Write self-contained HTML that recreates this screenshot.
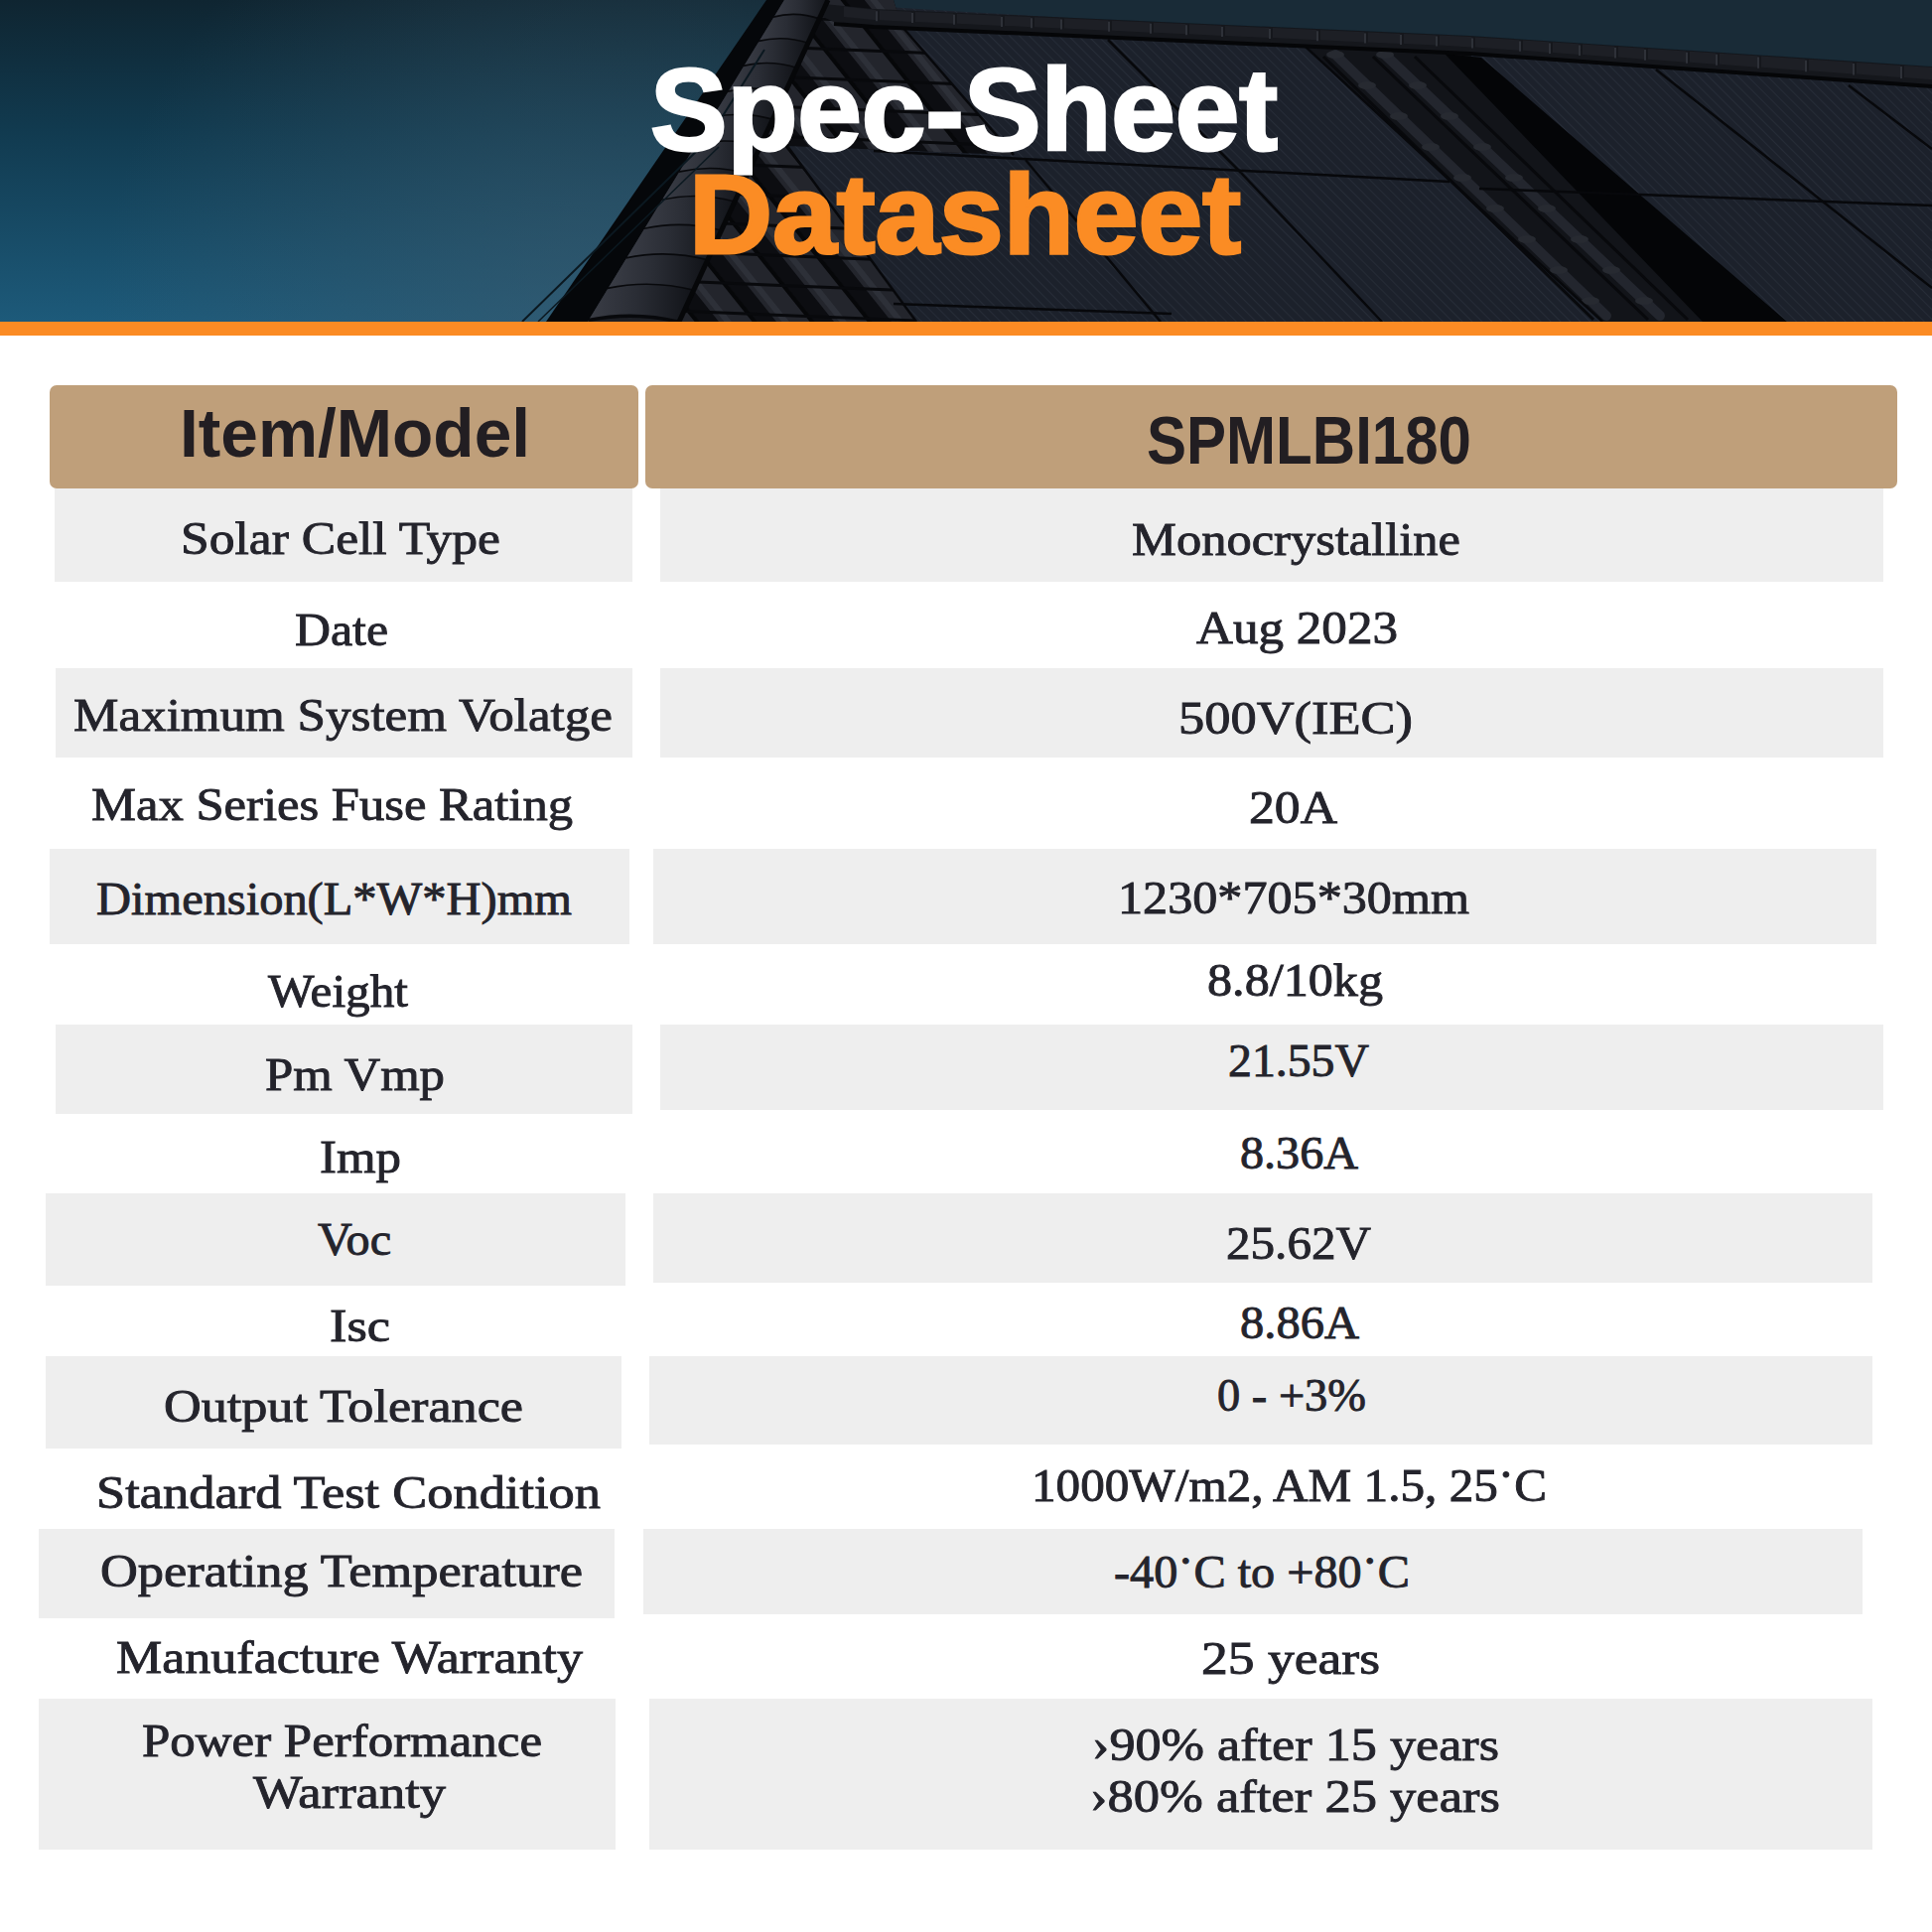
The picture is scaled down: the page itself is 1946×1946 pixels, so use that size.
<!DOCTYPE html>
<html><head><meta charset="utf-8"><title>Spec-Sheet Datasheet</title>
<style>
html,body{margin:0;padding:0;width:1946px;height:1946px;overflow:hidden;background:#fff;}
svg{position:absolute;left:0;top:0;display:block;}
.tb text{font-family:"Liberation Serif",serif;font-size:47px;fill:#24242c;stroke:#24242c;stroke-width:0.9px;}
.hd text{font-family:"Liberation Sans",sans-serif;font-weight:700;fill:#221e22;}
.ttl text{font-family:"Liberation Sans",sans-serif;font-weight:700;}
</style></head><body>
<svg width="1946" height="1946" viewBox="0 0 1946 1946">
<defs>
<linearGradient id="sky" x1="0" y1="0" x2="0" y2="1">
<stop offset="0" stop-color="#0f2531"/>
<stop offset="0.4" stop-color="#113a4f"/>
<stop offset="1" stop-color="#1d5a7a"/>
</linearGradient>
<radialGradient id="skyglow" cx="620" cy="330" r="520" gradientUnits="userSpaceOnUse">
<stop offset="0" stop-color="#3d5a6c" stop-opacity="0.6"/>
<stop offset="1" stop-color="#3d5a6c" stop-opacity="0"/>
</radialGradient>
<pattern id="cells" width="7" height="7" patternUnits="userSpaceOnUse" patternTransform="rotate(-45)">
<rect width="7" height="7" fill="#1c212b"/>
<rect width="1" height="7" fill="#262c37"/>
</pattern>
<linearGradient id="tileg" x1="0" y1="0" x2="1" y2="0">
<stop offset="0" stop-color="#3a3d46"/>
<stop offset="0.45" stop-color="#2a2d35"/>
<stop offset="1" stop-color="#111318"/>
</linearGradient>
<clipPath id="hclip"><rect x="0" y="0" width="1946" height="324"/></clipPath>
</defs>
<g clip-path="url(#hclip)">
<rect x="0" y="0" width="1946" height="324" fill="url(#sky)"/>
<rect x="0" y="0" width="1946" height="324" fill="url(#skyglow)"/>
<polygon points="740,0 1946,0 1946,67 1480,36 880,9 800,0" fill="#192b37"/>
<polygon points="783,0 973,12 1946,68 1946,324 552,324" fill="url(#cells)"/>

<clipPath id="tclip"><polygon points="834,0 900,0 908,26 1021,156 793,147 923,324 684,324"/></clipPath>
<polygon points="834,0 900,0 908,26 1021,156 793,147 923,324 684,324" fill="#0c0d11"/>
<g clip-path="url(#tclip)"><line x1="236" y1="-20" x2="524" y2="340" stroke="#23252c" stroke-width="30"/><line x1="226" y1="-20" x2="514" y2="340" stroke="#2d3038" stroke-width="6"/><line x1="253" y1="-20" x2="541" y2="340" stroke="#060709" stroke-width="4"/><line x1="294" y1="-20" x2="582" y2="340" stroke="#23252c" stroke-width="30"/><line x1="284" y1="-20" x2="572" y2="340" stroke="#2d3038" stroke-width="6"/><line x1="311" y1="-20" x2="599" y2="340" stroke="#060709" stroke-width="4"/><line x1="352" y1="-20" x2="640" y2="340" stroke="#23252c" stroke-width="30"/><line x1="342" y1="-20" x2="630" y2="340" stroke="#2d3038" stroke-width="6"/><line x1="369" y1="-20" x2="657" y2="340" stroke="#060709" stroke-width="4"/><line x1="410" y1="-20" x2="698" y2="340" stroke="#23252c" stroke-width="30"/><line x1="400" y1="-20" x2="688" y2="340" stroke="#2d3038" stroke-width="6"/><line x1="427" y1="-20" x2="715" y2="340" stroke="#060709" stroke-width="4"/><line x1="468" y1="-20" x2="756" y2="340" stroke="#23252c" stroke-width="30"/><line x1="458" y1="-20" x2="746" y2="340" stroke="#2d3038" stroke-width="6"/><line x1="485" y1="-20" x2="773" y2="340" stroke="#060709" stroke-width="4"/><line x1="526" y1="-20" x2="814" y2="340" stroke="#23252c" stroke-width="30"/><line x1="516" y1="-20" x2="804" y2="340" stroke="#2d3038" stroke-width="6"/><line x1="543" y1="-20" x2="831" y2="340" stroke="#060709" stroke-width="4"/><line x1="584" y1="-20" x2="872" y2="340" stroke="#23252c" stroke-width="30"/><line x1="574" y1="-20" x2="862" y2="340" stroke="#2d3038" stroke-width="6"/><line x1="601" y1="-20" x2="889" y2="340" stroke="#060709" stroke-width="4"/><line x1="642" y1="-20" x2="930" y2="340" stroke="#23252c" stroke-width="30"/><line x1="632" y1="-20" x2="920" y2="340" stroke="#2d3038" stroke-width="6"/><line x1="659" y1="-20" x2="947" y2="340" stroke="#060709" stroke-width="4"/><line x1="700" y1="-20" x2="988" y2="340" stroke="#23252c" stroke-width="30"/><line x1="690" y1="-20" x2="978" y2="340" stroke="#2d3038" stroke-width="6"/><line x1="717" y1="-20" x2="1005" y2="340" stroke="#060709" stroke-width="4"/><line x1="758" y1="-20" x2="1046" y2="340" stroke="#23252c" stroke-width="30"/><line x1="748" y1="-20" x2="1036" y2="340" stroke="#2d3038" stroke-width="6"/><line x1="775" y1="-20" x2="1063" y2="340" stroke="#060709" stroke-width="4"/><line x1="816" y1="-20" x2="1104" y2="340" stroke="#23252c" stroke-width="30"/><line x1="806" y1="-20" x2="1094" y2="340" stroke="#2d3038" stroke-width="6"/><line x1="833" y1="-20" x2="1121" y2="340" stroke="#060709" stroke-width="4"/><line x1="874" y1="-20" x2="1162" y2="340" stroke="#23252c" stroke-width="30"/><line x1="864" y1="-20" x2="1152" y2="340" stroke="#2d3038" stroke-width="6"/><line x1="891" y1="-20" x2="1179" y2="340" stroke="#060709" stroke-width="4"/><line x1="932" y1="-20" x2="1220" y2="340" stroke="#23252c" stroke-width="30"/><line x1="922" y1="-20" x2="1210" y2="340" stroke="#2d3038" stroke-width="6"/><line x1="949" y1="-20" x2="1237" y2="340" stroke="#060709" stroke-width="4"/><line x1="990" y1="-20" x2="1278" y2="340" stroke="#23252c" stroke-width="30"/><line x1="980" y1="-20" x2="1268" y2="340" stroke="#2d3038" stroke-width="6"/><line x1="1007" y1="-20" x2="1295" y2="340" stroke="#060709" stroke-width="4"/><line x1="600" y1="10" x2="1100" y2="30" stroke="#08090c" stroke-width="3"/><line x1="600" y1="40" x2="1100" y2="60" stroke="#08090c" stroke-width="3"/><line x1="600" y1="70" x2="1100" y2="90" stroke="#08090c" stroke-width="3"/><line x1="600" y1="100" x2="1100" y2="120" stroke="#08090c" stroke-width="3"/><line x1="600" y1="130" x2="1100" y2="150" stroke="#08090c" stroke-width="3"/><line x1="600" y1="160" x2="1100" y2="180" stroke="#08090c" stroke-width="3"/><line x1="600" y1="190" x2="1100" y2="210" stroke="#08090c" stroke-width="3"/><line x1="600" y1="220" x2="1100" y2="240" stroke="#08090c" stroke-width="3"/><line x1="600" y1="250" x2="1100" y2="270" stroke="#08090c" stroke-width="3"/><line x1="600" y1="280" x2="1100" y2="300" stroke="#08090c" stroke-width="3"/><line x1="600" y1="310" x2="1100" y2="330" stroke="#08090c" stroke-width="3"/><line x1="600" y1="340" x2="1100" y2="360" stroke="#08090c" stroke-width="3"/></g>
<polygon points="1315,45 1480,55 1790,324 1614,324" fill="#121419"/>
<polygon points="1455,54 1492,58 1800,324 1715,324" fill="#040507"/>
<g stroke="#23262e" stroke-width="10" stroke-linecap="round"><line x1="1345" y1="55" x2="1618" y2="318"/><line x1="1395" y1="55" x2="1672" y2="318"/></g>
<g stroke="#08090c" stroke-width="3"><line x1="1333" y1="57" x2="1605" y2="322"/><line x1="1383" y1="57" x2="1660" y2="322"/><line x1="1425" y1="57" x2="1700" y2="322"/></g>
<ellipse cx="1345" cy="55" rx="9" ry="4" fill="#272a31"/><ellipse cx="1395" cy="55" rx="9" ry="4" fill="#272a31"/><ellipse cx="1377" cy="86" rx="9" ry="4" fill="#272a31"/><ellipse cx="1428" cy="86" rx="9" ry="4" fill="#272a31"/><ellipse cx="1409" cy="117" rx="9" ry="4" fill="#272a31"/><ellipse cx="1460" cy="117" rx="9" ry="4" fill="#272a31"/><ellipse cx="1441" cy="148" rx="9" ry="4" fill="#272a31"/><ellipse cx="1493" cy="148" rx="9" ry="4" fill="#272a31"/><ellipse cx="1473" cy="179" rx="9" ry="4" fill="#272a31"/><ellipse cx="1525" cy="179" rx="9" ry="4" fill="#272a31"/><ellipse cx="1506" cy="210" rx="9" ry="4" fill="#272a31"/><ellipse cx="1558" cy="210" rx="9" ry="4" fill="#272a31"/><ellipse cx="1538" cy="241" rx="9" ry="4" fill="#272a31"/><ellipse cx="1591" cy="241" rx="9" ry="4" fill="#272a31"/><ellipse cx="1570" cy="272" rx="9" ry="4" fill="#272a31"/><ellipse cx="1623" cy="272" rx="9" ry="4" fill="#272a31"/><ellipse cx="1602" cy="303" rx="9" ry="4" fill="#272a31"/><ellipse cx="1656" cy="303" rx="9" ry="4" fill="#272a31"/>
<g stroke="#07080b" stroke-width="2.5" fill="none">
<line x1="880" y1="152" x2="1460" y2="183"/>
<line x1="1490" y1="190" x2="1946" y2="207"/>
<line x1="908" y1="26" x2="1021" y2="156"/>
<line x1="1116" y1="40" x2="1250" y2="174"/>
<line x1="1033" y1="161" x2="1169" y2="324"/>
<line x1="1250" y1="174" x2="1392" y2="324"/>
<line x1="793" y1="147" x2="923" y2="324"/>
<line x1="1315" y1="47" x2="1614" y2="324"/>
<line x1="1668" y1="70" x2="1946" y2="290"/>
<line x1="1862" y1="86" x2="1946" y2="150"/>
<line x1="900" y1="306" x2="1180" y2="316"/>
</g>
<polygon points="790,0 880,9 1480,36 1946,67 1946,86 1480,53 880,26 840,22" fill="#15171c"/>
<path d="M850,6.6 L882,10.1 Q886,15.3 882,20.3 L850,17.0 Z" fill="#1d1f25"/><line x1="883" y1="11.3" x2="883" y2="21.3" stroke="#2e3138" stroke-width="2"/><path d="M886,10.3 L918,11.7 Q922,16.9 918,21.9 L886,20.3 Z" fill="#1d1f25"/><line x1="919" y1="12.9" x2="919" y2="22.9" stroke="#2e3138" stroke-width="2"/><path d="M922,11.9 L960,13.6 Q964,18.8 960,23.8 L922,21.9 Z" fill="#1d1f25"/><line x1="961" y1="14.8" x2="961" y2="24.8" stroke="#2e3138" stroke-width="2"/><path d="M964,13.8 L1008,15.8 Q1012,20.9 1008,25.9 L964,23.8 Z" fill="#1d1f25"/><line x1="1009" y1="16.9" x2="1009" y2="26.9" stroke="#2e3138" stroke-width="2"/><path d="M1012,15.9 L1038,17.1 Q1042,22.3 1038,27.3 L1012,25.9 Z" fill="#1d1f25"/><line x1="1039" y1="18.3" x2="1039" y2="28.3" stroke="#2e3138" stroke-width="2"/><path d="M1042,17.3 L1068,18.5 Q1072,23.6 1068,28.6 L1042,27.3 Z" fill="#1d1f25"/><line x1="1069" y1="19.6" x2="1069" y2="29.6" stroke="#2e3138" stroke-width="2"/><path d="M1072,18.6 L1116,20.6 Q1120,25.8 1116,30.8 L1072,28.6 Z" fill="#1d1f25"/><line x1="1117" y1="21.8" x2="1117" y2="31.8" stroke="#2e3138" stroke-width="2"/><path d="M1120,20.8 L1158,22.5 Q1162,27.7 1158,32.7 L1120,30.8 Z" fill="#1d1f25"/><line x1="1159" y1="23.7" x2="1159" y2="33.7" stroke="#2e3138" stroke-width="2"/><path d="M1162,22.7 L1194,24.1 Q1198,29.3 1194,34.3 L1162,32.7 Z" fill="#1d1f25"/><line x1="1195" y1="25.3" x2="1195" y2="35.3" stroke="#2e3138" stroke-width="2"/><path d="M1198,24.3 L1230,25.8 Q1234,30.9 1230,35.9 L1198,34.3 Z" fill="#1d1f25"/><line x1="1231" y1="26.9" x2="1231" y2="36.9" stroke="#2e3138" stroke-width="2"/><path d="M1234,25.9 L1278,27.9 Q1282,33.1 1278,38.1 L1234,35.9 Z" fill="#1d1f25"/><line x1="1279" y1="29.1" x2="1279" y2="39.1" stroke="#2e3138" stroke-width="2"/><path d="M1282,28.1 L1326,30.1 Q1330,35.2 1326,40.2 L1282,38.1 Z" fill="#1d1f25"/><line x1="1327" y1="31.2" x2="1327" y2="41.2" stroke="#2e3138" stroke-width="2"/><path d="M1330,30.2 L1374,32.2 Q1378,37.4 1374,42.4 L1330,40.2 Z" fill="#1d1f25"/><line x1="1375" y1="33.4" x2="1375" y2="43.4" stroke="#2e3138" stroke-width="2"/><path d="M1378,32.4 L1410,33.9 Q1414,39.0 1410,44.0 L1378,42.4 Z" fill="#1d1f25"/><line x1="1411" y1="35.0" x2="1411" y2="45.0" stroke="#2e3138" stroke-width="2"/><path d="M1414,34.0 L1446,35.5 Q1450,40.6 1446,45.6 L1414,44.0 Z" fill="#1d1f25"/><line x1="1447" y1="36.6" x2="1447" y2="46.6" stroke="#2e3138" stroke-width="2"/><path d="M1450,35.6 L1482,37.1 Q1486,42.4 1482,47.4 L1450,45.6 Z" fill="#1d1f25"/><line x1="1483" y1="38.4" x2="1483" y2="48.4" stroke="#2e3138" stroke-width="2"/><path d="M1486,37.4 L1530,40.3 Q1534,45.6 1530,50.8 L1486,47.4 Z" fill="#1d1f25"/><line x1="1531" y1="41.6" x2="1531" y2="51.8" stroke="#2e3138" stroke-width="2"/><path d="M1534,40.6 L1560,42.3 Q1564,47.6 1560,52.9 L1534,50.8 Z" fill="#1d1f25"/><line x1="1561" y1="43.6" x2="1561" y2="53.9" stroke="#2e3138" stroke-width="2"/><path d="M1564,42.6 L1590,44.3 Q1594,49.6 1590,55.1 L1564,52.9 Z" fill="#1d1f25"/><line x1="1591" y1="45.6" x2="1591" y2="56.1" stroke="#2e3138" stroke-width="2"/><path d="M1594,44.6 L1626,46.7 Q1630,52.0 1626,57.6 L1594,55.1 Z" fill="#1d1f25"/><line x1="1627" y1="48.0" x2="1627" y2="58.6" stroke="#2e3138" stroke-width="2"/><path d="M1630,47.0 L1656,48.7 Q1660,54.0 1656,59.7 L1630,57.6 Z" fill="#1d1f25"/><line x1="1657" y1="50.0" x2="1657" y2="60.7" stroke="#2e3138" stroke-width="2"/><path d="M1660,49.0 L1698,51.5 Q1702,56.8 1698,62.7 L1660,59.7 Z" fill="#1d1f25"/><line x1="1699" y1="52.8" x2="1699" y2="63.7" stroke="#2e3138" stroke-width="2"/><path d="M1702,51.8 L1728,53.5 Q1732,58.8 1728,64.8 L1702,62.7 Z" fill="#1d1f25"/><line x1="1729" y1="54.8" x2="1729" y2="65.8" stroke="#2e3138" stroke-width="2"/><path d="M1732,53.8 L1770,56.3 Q1774,61.6 1770,67.8 L1732,64.8 Z" fill="#1d1f25"/><line x1="1771" y1="57.6" x2="1771" y2="68.8" stroke="#2e3138" stroke-width="2"/><path d="M1774,56.6 L1818,59.5 Q1822,64.8 1818,71.2 L1774,67.8 Z" fill="#1d1f25"/><line x1="1819" y1="60.8" x2="1819" y2="72.2" stroke="#2e3138" stroke-width="2"/><path d="M1822,59.8 L1866,62.7 Q1870,67.9 1866,74.6 L1822,71.2 Z" fill="#1d1f25"/><line x1="1867" y1="63.9" x2="1867" y2="75.6" stroke="#2e3138" stroke-width="2"/><path d="M1870,62.9 L1914,65.9 Q1918,71.1 1914,78.0 L1870,74.6 Z" fill="#1d1f25"/><line x1="1915" y1="67.1" x2="1915" y2="79.0" stroke="#2e3138" stroke-width="2"/><path d="M1918,66.1 L1962,69.1 Q1966,74.3 1962,81.4 L1918,78.0 Z" fill="#1d1f25"/><line x1="1963" y1="70.3" x2="1963" y2="82.4" stroke="#2e3138" stroke-width="2"/>
<polyline points="840,24 880,27 1480,54 1946,87" stroke="#050608" stroke-width="4" fill="none"/>
<polygon points="772,0 790,0 592,324 550,324" fill="#05070a"/>
<polygon points="790,0 834,0 684,324 592,324" fill="#1c1e24"/>
<path d="M793.7,-6.0 Q815.2,-11.9 836.8,-4.0 L825.7,19.9 Q802.4,11.9 779.1,17.9 Z" fill="url(#tileg)"/><path d="M779.1,17.9 Q802.4,11.9 825.7,19.9" stroke="#08090c" stroke-width="3.5" fill="none"/><path d="M779.1,17.9 Q802.4,11.6 825.7,19.9 L814.4,44.3 Q789.3,36.1 764.2,42.3 Z" fill="url(#tileg)"/><path d="M764.2,42.3 Q789.3,36.1 814.4,44.3" stroke="#08090c" stroke-width="3.5" fill="none"/><path d="M764.2,42.3 Q789.3,35.8 814.4,44.3 L802.8,69.3 Q775.8,60.8 748.8,67.3 Z" fill="url(#tileg)"/><path d="M748.8,67.3 Q775.8,60.8 802.8,69.3" stroke="#08090c" stroke-width="3.5" fill="none"/><path d="M748.8,67.3 Q775.8,60.5 802.8,69.3 L790.9,95.0 Q762.1,86.2 733.2,93.0 Z" fill="url(#tileg)"/><path d="M733.2,93.0 Q762.1,86.2 790.9,95.0" stroke="#08090c" stroke-width="3.5" fill="none"/><path d="M733.2,93.0 Q762.1,85.9 790.9,95.0 L778.8,121.3 Q747.9,112.1 717.1,119.3 Z" fill="url(#tileg)"/><path d="M717.1,119.3 Q747.9,112.1 778.8,121.3" stroke="#08090c" stroke-width="3.5" fill="none"/><path d="M717.1,119.3 Q747.9,111.8 778.8,121.3 L766.3,148.2 Q733.5,138.8 700.6,146.2 Z" fill="url(#tileg)"/><path d="M700.6,146.2 Q733.5,138.8 766.3,148.2" stroke="#08090c" stroke-width="3.5" fill="none"/><path d="M700.6,146.2 Q733.5,138.4 766.3,148.2 L753.5,175.9 Q718.6,166.0 683.8,173.9 Z" fill="url(#tileg)"/><path d="M683.8,173.9 Q718.6,166.0 753.5,175.9" stroke="#08090c" stroke-width="3.5" fill="none"/><path d="M683.8,173.9 Q718.6,165.7 753.5,175.9 L740.4,204.1 Q703.4,194.0 666.5,202.1 Z" fill="url(#tileg)"/><path d="M666.5,202.1 Q703.4,194.0 740.4,204.1" stroke="#08090c" stroke-width="3.5" fill="none"/><path d="M666.5,202.1 Q703.4,193.6 740.4,204.1 L727.0,233.1 Q687.9,222.6 648.8,231.1 Z" fill="url(#tileg)"/><path d="M648.8,231.1 Q687.9,222.6 727.0,233.1" stroke="#08090c" stroke-width="3.5" fill="none"/><path d="M648.8,231.1 Q687.9,222.3 727.0,233.1 L713.2,262.8 Q671.9,252.0 630.6,260.8 Z" fill="url(#tileg)"/><path d="M630.6,260.8 Q671.9,252.0 713.2,262.8" stroke="#08090c" stroke-width="3.5" fill="none"/><path d="M630.6,260.8 Q671.9,251.6 713.2,262.8 L699.1,293.3 Q655.6,282.1 612.0,291.3 Z" fill="url(#tileg)"/><path d="M612.0,291.3 Q655.6,282.1 699.1,293.3" stroke="#08090c" stroke-width="3.5" fill="none"/><path d="M612.0,291.3 Q655.6,281.7 699.1,293.3 L684.7,324.5 Q638.8,312.9 592.9,322.5 Z" fill="url(#tileg)"/><path d="M592.9,322.5 Q638.8,312.9 684.7,324.5" stroke="#08090c" stroke-width="3.5" fill="none"/>
<line x1="684" y1="324" x2="834" y2="0" stroke="#060709" stroke-width="5"/>
<path d="M526,324 L712,142 L770,50" stroke="#0b1820" stroke-width="2" fill="none"/><path d="M542,324 L724,148" stroke="#0b1820" stroke-width="1.5" fill="none"/>
</g>
<rect x="0" y="324" width="1946" height="14" fill="#fb8b24"/>
<g class="ttl">
<text x="655.0" y="151" font-size="117" fill="#ffffff" stroke="#ffffff" stroke-width="3" textLength="632.0" lengthAdjust="spacingAndGlyphs">Spec-Sheet</text>
<text x="694.0" y="255" font-size="113" fill="#fb8c24" stroke="#fb8c24" stroke-width="3" textLength="556.0" lengthAdjust="spacingAndGlyphs">Datasheet</text>
</g>
<rect x="50" y="388" width="593" height="104" rx="7" fill="#bf9f7a"/>
<rect x="650" y="388" width="1261" height="104" rx="7" fill="#bf9f7a"/>
<g class="hd">
<text x="181.0" y="460" font-size="68" textLength="353.0" lengthAdjust="spacingAndGlyphs">Item/Model</text>
<text x="1155.0" y="467" font-size="69" textLength="327.0" lengthAdjust="spacingAndGlyphs">SPMLBI180</text>
</g>
<g class="tb">
<rect x="55" y="492" width="582" height="94" fill="#eeeeee"/>
<rect x="665" y="492" width="1232" height="94" fill="#eeeeee"/>
<rect x="56" y="673" width="581" height="90" fill="#eeeeee"/>
<rect x="665" y="673" width="1232" height="90" fill="#eeeeee"/>
<rect x="50" y="855" width="584" height="96" fill="#eeeeee"/>
<rect x="658" y="855" width="1232" height="96" fill="#eeeeee"/>
<rect x="56" y="1032" width="581" height="90" fill="#eeeeee"/>
<rect x="665" y="1032" width="1232" height="86" fill="#eeeeee"/>
<rect x="46" y="1202" width="584" height="93" fill="#eeeeee"/>
<rect x="658" y="1202" width="1228" height="90" fill="#eeeeee"/>
<rect x="46" y="1366" width="580" height="93" fill="#eeeeee"/>
<rect x="654" y="1366" width="1232" height="89" fill="#eeeeee"/>
<rect x="39" y="1540" width="580" height="90" fill="#eeeeee"/>
<rect x="648" y="1540" width="1228" height="86" fill="#eeeeee"/>
<rect x="39" y="1711" width="581" height="152" fill="#eeeeee"/>
<rect x="654" y="1711" width="1232" height="152" fill="#eeeeee"/>
<text x="182.0" y="558" textLength="322.0" lengthAdjust="spacingAndGlyphs">Solar Cell Type</text>
<text x="297.0" y="650" textLength="94.0" lengthAdjust="spacingAndGlyphs">Date</text>
<text x="74.0" y="736" textLength="543.0" lengthAdjust="spacingAndGlyphs">Maximum System Volatge</text>
<text x="92.0" y="826" textLength="485.0" lengthAdjust="spacingAndGlyphs">Max Series Fuse Rating</text>
<text x="97.0" y="921" textLength="479.0" lengthAdjust="spacingAndGlyphs">Dimension(L*W*H)mm</text>
<text x="270.0" y="1014" textLength="141.0" lengthAdjust="spacingAndGlyphs">Weight</text>
<text x="267.0" y="1098" textLength="181.0" lengthAdjust="spacingAndGlyphs">Pm Vmp</text>
<text x="322.0" y="1181" textLength="82.0" lengthAdjust="spacingAndGlyphs">Imp</text>
<text x="320.0" y="1264" textLength="74.0" lengthAdjust="spacingAndGlyphs">Voc</text>
<text x="332.0" y="1351" textLength="61.0" lengthAdjust="spacingAndGlyphs">Isc</text>
<text x="165.0" y="1432" textLength="362.0" lengthAdjust="spacingAndGlyphs">Output Tolerance</text>
<text x="97.0" y="1519" textLength="508.0" lengthAdjust="spacingAndGlyphs">Standard Test Condition</text>
<text x="101.0" y="1598" textLength="486.0" lengthAdjust="spacingAndGlyphs">Operating Temperature</text>
<text x="117.0" y="1685" textLength="470.0" lengthAdjust="spacingAndGlyphs">Manufacture Warranty</text>
<text x="143.0" y="1769" textLength="403.0" lengthAdjust="spacingAndGlyphs">Power Performance</text>
<text x="255.0" y="1821" textLength="194.0" lengthAdjust="spacingAndGlyphs">Warranty</text>
<text x="1140.0" y="559" textLength="331.0" lengthAdjust="spacingAndGlyphs">Monocrystalline</text>
<text x="1205.0" y="648" textLength="203.0" lengthAdjust="spacingAndGlyphs">Aug 2023</text>
<text x="1187.0" y="739" textLength="236.0" lengthAdjust="spacingAndGlyphs">500V(IEC)</text>
<text x="1258.0" y="829" textLength="89.0" lengthAdjust="spacingAndGlyphs">20A</text>
<text x="1126.0" y="920" textLength="354.0" lengthAdjust="spacingAndGlyphs">1230*705*30mm</text>
<text x="1216.0" y="1003" textLength="177.0" lengthAdjust="spacingAndGlyphs">8.8/10kg</text>
<text x="1237.0" y="1084" textLength="142.0" lengthAdjust="spacingAndGlyphs">21.55V</text>
<text x="1249.0" y="1177" textLength="119.0" lengthAdjust="spacingAndGlyphs">8.36A</text>
<text x="1235.0" y="1268" textLength="146.0" lengthAdjust="spacingAndGlyphs">25.62V</text>
<text x="1249.0" y="1348" textLength="120.0" lengthAdjust="spacingAndGlyphs">8.86A</text>
<text x="1226.0" y="1421" textLength="150.0" lengthAdjust="spacingAndGlyphs">0 - +3%</text>
<text x="1039.0" y="1512" textLength="519.0" lengthAdjust="spacingAndGlyphs">1000W/m2, AM 1.5, 25<tspan dy="-11">·</tspan><tspan dy="11">C</tspan></text>
<text x="1122.0" y="1599" textLength="298.0" lengthAdjust="spacingAndGlyphs">-40<tspan dy="-11">·</tspan><tspan dy="11">C to +80</tspan><tspan dy="-11">·</tspan><tspan dy="11">C</tspan></text>
<text x="1210.0" y="1686" textLength="180.0" lengthAdjust="spacingAndGlyphs">25 years</text>
<text x="1100.0" y="1773" textLength="410.0" lengthAdjust="spacingAndGlyphs">›90% after 15 years</text>
<text x="1098.0" y="1825" textLength="413.0" lengthAdjust="spacingAndGlyphs">›80% after 25 years</text>
</g>
</svg>
</body></html>
